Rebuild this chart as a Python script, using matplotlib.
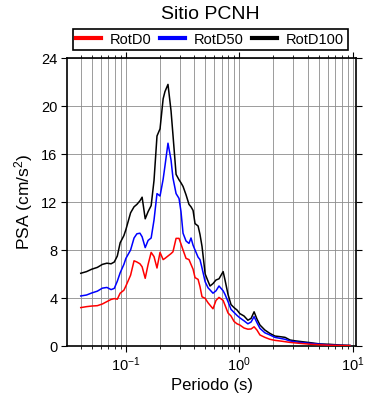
import matplotlib
matplotlib.use("Agg")
import matplotlib.pyplot as plt
from matplotlib.ticker import LogLocator, NullFormatter

plt.rcParams['font.family'] = ['Liberation Sans', 'DejaVu Sans']
plt.rcParams['mathtext.fontset'] = 'custom'
plt.rcParams['mathtext.rm'] = 'Liberation Sans'
plt.rcParams['mathtext.it'] = 'Liberation Sans'

title = "Sitio PCNH"
series_names = ["RotD0", "RotD50", "RotD100"]
series_colors = ["#ff0000", "#0000ff", "#000000"]

periods = [0.040, 0.045, 0.050, 0.056, 0.062, 0.068, 0.074, 0.079, 0.084, 0.089,
           0.096, 0.10, 0.11, 0.118, 0.125, 0.133, 0.139, 0.148, 0.157, 0.167,
           0.177, 0.188, 0.20, 0.213, 0.221, 0.235, 0.25, 0.26, 0.277, 0.294,
           0.306, 0.319, 0.339, 0.36, 0.375, 0.391, 0.407, 0.433, 0.45, 0.469,
           0.50, 0.53, 0.552, 0.586, 0.623, 0.662, 0.72, 0.748, 0.795, 0.845,
           0.898, 0.954, 1.01, 1.10, 1.19, 1.27, 1.35, 1.43, 1.52, 1.68,
           1.86, 2.06, 2.28, 2.53, 2.80, 3.10, 3.43, 4.20, 5.14, 6.30,
           7.71, 9.45]

rotd100 = [6.06, 6.2, 6.4, 6.55, 6.8, 6.9, 6.85, 7.0, 7.5, 8.6,
           9.2, 9.7, 11.1, 11.6, 11.8, 12.1, 12.4, 10.6, 11.2, 11.7,
           13.8, 17.5, 18.1, 20.6, 21.2, 21.8, 19.6, 17.6, 14.3, 13.85,
           13.6, 13.3, 12.6, 11.8, 11.6, 11.3, 10.2, 10.0, 9.3, 8.3,
           6.0, 5.4, 5.0, 5.2, 5.5, 5.6, 6.2, 5.5, 4.3, 3.45,
           3.2, 3.0, 2.7, 2.5, 2.15, 2.3, 2.85, 2.25, 1.75, 1.33,
           1.05, 0.83, 0.78, 0.72, 0.5, 0.43, 0.38, 0.28, 0.17, 0.14,
           0.08, 0.05]

rotd50 = [4.17, 4.25, 4.42, 4.57, 4.82, 4.88, 4.7, 4.8, 5.4, 6.1,
          6.8, 7.3, 8.0, 9.0, 9.35, 9.4, 9.1, 8.2, 8.8, 9.0,
          10.5, 12.7, 12.5, 13.9, 15.0, 16.9, 15.5, 14.0, 12.7, 12.3,
          11.2, 9.4, 8.75, 8.55, 9.0, 8.4, 8.0, 7.4, 7.2, 6.5,
          5.35, 4.85, 4.67, 4.4, 4.6, 5.0, 4.6, 4.3, 3.7, 3.05,
          2.8, 2.55, 2.35, 2.1, 1.85, 2.0, 2.45, 1.95, 1.47, 1.1,
          0.92, 0.72, 0.64, 0.56, 0.42, 0.35, 0.3, 0.22, 0.15, 0.08,
          0.05, 0.03]

rotd0 = [3.2, 3.28, 3.33, 3.36, 3.5, 3.7, 3.88, 3.95, 3.9, 4.4,
         4.65, 5.0, 5.9, 7.1, 7.0, 6.85, 6.6, 5.64, 6.8, 7.8,
         7.45, 6.5, 7.8, 7.2, 7.3, 7.5, 7.7, 7.85, 8.97, 8.97,
         8.5, 8.0, 7.3, 7.2, 6.8, 6.4, 5.7, 5.55, 4.95, 4.1,
         3.97, 3.6, 3.4, 3.1, 3.8, 4.05, 3.8, 3.4, 2.75, 2.5,
         2.05, 1.85, 1.75, 1.5, 1.4, 1.42, 1.6, 1.33, 0.92, 0.72,
         0.56, 0.47, 0.42, 0.36, 0.3, 0.26, 0.22, 0.15, 0.1, 0.06,
         0.04, 0.03]

y_ticks = [0, 4, 8, 12, 16, 20, 24]

fig = plt.figure(figsize=(3.9, 4.0), dpi=100)
ax = fig.add_axes([0.172, 0.135, 0.741, 0.72])

lines = {}
for name, vals, col in [(series_names[2], rotd100, series_colors[2]),
                        (series_names[1], rotd50, series_colors[1]),
                        (series_names[0], rotd0, series_colors[0])]:
    ln, = ax.plot(periods, vals, color=col, lw=1.1, label=name, zorder=3)
    lines[name] = ln

ax.set_xscale('log')
ax.set_xlim(0.0303, 10.7)
ax.set_ylim(0, 24)
ax.set_yticks(y_ticks)
ax.xaxis.set_major_locator(LogLocator(base=10, numticks=10))
ax.xaxis.set_minor_locator(LogLocator(base=10, subs=range(2, 10), numticks=20))
ax.xaxis.set_minor_formatter(NullFormatter())

ax.grid(True, which='both', axis='x', color='#8c8c8c', lw=0.6)
ax.grid(True, which='major', axis='y', color='#8c8c8c', lw=0.6)
ax.set_axisbelow(True)

ax.tick_params(which='major', direction='out', length=4, width=0.8,
               top=True, right=True, labelsize=10.5, pad=3)
ax.tick_params(which='minor', direction='out', length=2.5, width=0.6,
               top=True, right=True)
for s in ax.spines.values():
    s.set_linewidth(1.2)

ax.set_xlabel("Periodo (s)", fontsize=12, labelpad=3)
ax.set_ylabel("PSA (cm/s$^2$)", fontsize=12.5, labelpad=4)
fig.text(0.54, 0.963, title, ha='center', va='center', fontsize=14)

handles = [lines[n] for n in series_names]
leg = fig.legend(handles, series_names, loc='center', ncol=3,
                 bbox_to_anchor=(0.539, 0.901), frameon=True, fancybox=False,
                 edgecolor='black', framealpha=1, fontsize=10.5,
                 handlelength=1.7, columnspacing=0.6, handletextpad=0.6,
                 borderpad=0.25, borderaxespad=0)
leg.get_frame().set_linewidth(1.2)
for h in leg.legend_handles:
    h.set_linewidth(3)

fig.savefig("out.png", dpi=100)
